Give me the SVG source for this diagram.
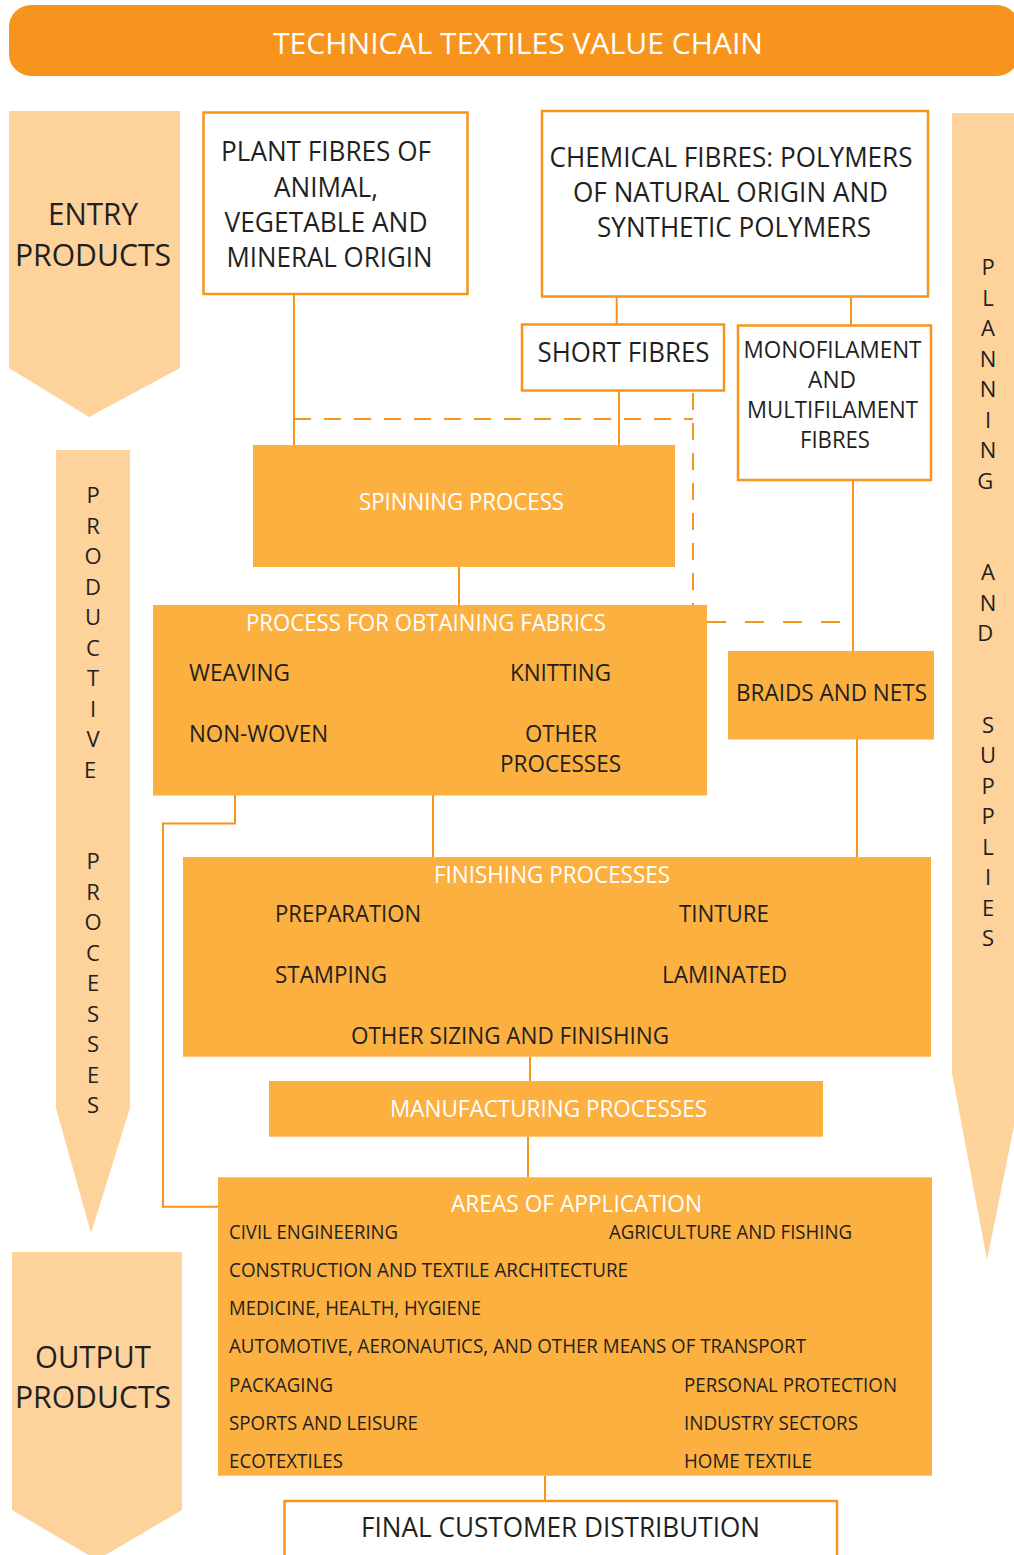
<svg xmlns="http://www.w3.org/2000/svg" width="1014" height="1555" viewBox="0 0 1014 1555">
<style>
.arrow{fill:#FDD29B}
.box{fill:#FFFFFF;stroke:#F7941E;stroke-width:2.5}
.fill{fill:#FBB040}
.t{font-family:"Open Sans","Noto Sans","Liberation Sans",sans-serif;fill:#231F20}
.w{font-family:"Open Sans","Noto Sans","Liberation Sans",sans-serif;fill:#FFFFFF}
.mid{text-anchor:middle}
.c{fill:none;stroke:#F7941E;stroke-width:2}
.d1{fill:none;stroke:#F7941E;stroke-width:2;stroke-dasharray:17 13}
.d2{fill:none;stroke:#F7941E;stroke-width:2;stroke-dasharray:19 19}
</style>
<rect width="1014" height="1555" fill="#FFFFFF"/>

<g id="header">
<rect x="9" y="5" width="1010" height="71" rx="22" fill="#F7941E"/>
<text class="w mid" x="518" y="54" font-size="30" textLength="490" lengthAdjust="spacingAndGlyphs">TECHNICAL TEXTILES VALUE CHAIN</text>
</g>

<g id="entry-products">
<polygon class="arrow" points="9,111 180,111 180,368 89,417 9,368"/>
<text class="t mid" x="93" y="225" font-size="31" textLength="90" lengthAdjust="spacingAndGlyphs">ENTRY</text>
<text class="t mid" x="93" y="266" font-size="31" textLength="156" lengthAdjust="spacingAndGlyphs">PRODUCTS</text>
</g>

<g id="productive-processes">
<polygon class="arrow" points="56,450 130,450 130,1108 91,1233 56,1108"/>
<text class="t mid" font-size="22">
<tspan x="93" y="503">P</tspan><tspan x="93" y="533.5">R</tspan><tspan x="93" y="564">O</tspan><tspan x="93" y="594.5">D</tspan><tspan x="93" y="625">U</tspan><tspan x="93" y="655.5">C</tspan><tspan x="93" y="686">T</tspan><tspan x="93" y="716.5">I</tspan><tspan x="93" y="747">V</tspan><tspan x="93" y="777.5">E</tspan>
<tspan x="93" y="869">P</tspan><tspan x="93" y="899.5">R</tspan><tspan x="93" y="930">O</tspan><tspan x="93" y="960.5">C</tspan><tspan x="93" y="991">E</tspan><tspan x="93" y="1021.5">S</tspan><tspan x="93" y="1052">S</tspan><tspan x="93" y="1082.5">E</tspan><tspan x="93" y="1113">S</tspan>
</text>
</g>

<g id="planning-supplies">
<polygon class="arrow" points="952,113 1014,113 1014,1126 987,1260 952,1073"/>
<text class="t mid" font-size="22">
<tspan x="988" y="275">P</tspan><tspan x="988" y="305.5">L</tspan><tspan x="988" y="336">A</tspan><tspan x="988" y="366.5">N</tspan><tspan x="988" y="397">N</tspan><tspan x="988" y="427.5">I</tspan><tspan x="988" y="458">N</tspan><tspan x="988" y="488.5">G</tspan>
<tspan x="988" y="580">A</tspan><tspan x="988" y="610.5">N</tspan><tspan x="988" y="641">D</tspan>
<tspan x="988" y="732.5">S</tspan><tspan x="988" y="763">U</tspan><tspan x="988" y="793.5">P</tspan><tspan x="988" y="824">P</tspan><tspan x="988" y="854.5">L</tspan><tspan x="988" y="885">I</tspan><tspan x="988" y="915.5">E</tspan><tspan x="988" y="946">S</tspan>
</text>
</g>

<g id="connectors">
<path class="c" d="M616.7 296.7V324"/>
<path class="c" d="M851 296.7V325"/>
<path class="c" d="M294 294V445"/>
<path class="c" d="M619 390.7V445"/>
<path class="d1" d="M294 419H693"/>
<path class="d1" d="M693 393V605"/>
<path class="d2" d="M707 622H853"/>
<path class="c" d="M853 480V651"/>
<path class="c" d="M459 567V605"/>
<path class="c" d="M433 795V857"/>
<path class="c" d="M235 795V823.5H163V1206.7H218"/>
<path class="c" d="M857 739V857"/>
<path class="c" d="M530 1056.7V1081"/>
<path class="c" d="M528 1136.7V1177"/>
<path class="c" d="M545 1475.7V1500.7"/>
</g>

<g id="plant-fibres">
<rect class="box" x="203.5" y="112.5" width="264" height="181.5"/>
<text class="t mid" font-size="26.5">
<tspan x="329.5" y="161" textLength="210" lengthAdjust="spacingAndGlyphs">PLANT FIBRES OF</tspan>
<tspan x="329.5" y="196.7" textLength="104" lengthAdjust="spacingAndGlyphs">ANIMAL,</tspan>
<tspan x="329.5" y="231.7" textLength="203" lengthAdjust="spacingAndGlyphs">VEGETABLE AND</tspan>
<tspan x="329.5" y="266.7" textLength="206" lengthAdjust="spacingAndGlyphs">MINERAL ORIGIN</tspan>
</text>
</g>

<g id="chemical-fibres">
<rect class="box" x="542" y="111" width="386" height="185.5"/>
<text class="t mid" font-size="26.5">
<tspan x="734.5" y="166.5" textLength="363" lengthAdjust="spacingAndGlyphs">CHEMICAL FIBRES: POLYMERS</tspan>
<tspan x="734" y="201.7" textLength="315" lengthAdjust="spacingAndGlyphs">OF NATURAL ORIGIN AND</tspan>
<tspan x="734" y="237" textLength="274" lengthAdjust="spacingAndGlyphs">SYNTHETIC POLYMERS</tspan>
</text>
</g>

<g id="short-fibres">
<rect class="box" x="522" y="324.5" width="202" height="66"/>
<text class="t mid" x="623.5" y="361.7" font-size="26.5" textLength="172" lengthAdjust="spacingAndGlyphs">SHORT FIBRES</text>
</g>

<g id="mono-multi-filament">
<rect class="box" x="738" y="325.5" width="193" height="154.5"/>
<text class="t mid" font-size="23">
<tspan x="835.5" y="357.5" textLength="178" lengthAdjust="spacingAndGlyphs">MONOFILAMENT</tspan>
<tspan x="835" y="387.5" textLength="48" lengthAdjust="spacingAndGlyphs">AND</tspan>
<tspan x="835.5" y="418.3" textLength="171" lengthAdjust="spacingAndGlyphs">MULTIFILAMENT</tspan>
<tspan x="835" y="448.3" textLength="70" lengthAdjust="spacingAndGlyphs">FIBRES</tspan>
</text>
</g>

<g id="spinning-process">
<rect class="fill" x="253" y="445" width="422" height="122"/>
<text class="w mid" x="461.5" y="510" font-size="23" textLength="205" lengthAdjust="spacingAndGlyphs">SPINNING PROCESS</text>
</g>

<g id="fabrics-process">
<rect class="fill" x="153" y="605" width="554" height="190.5"/>
<text class="w mid" x="426" y="631" font-size="23" textLength="360" lengthAdjust="spacingAndGlyphs">PROCESS FOR OBTAINING FABRICS</text>
<text class="t" x="189" y="681" font-size="23" textLength="101" lengthAdjust="spacingAndGlyphs">WEAVING</text>
<text class="t mid" x="560.5" y="681" font-size="23" textLength="101" lengthAdjust="spacingAndGlyphs">KNITTING</text>
<text class="t" x="189" y="741.7" font-size="23" textLength="139" lengthAdjust="spacingAndGlyphs">NON-WOVEN</text>
<text class="t mid" x="561" y="741.7" font-size="23" textLength="72" lengthAdjust="spacingAndGlyphs">OTHER</text>
<text class="t mid" x="560.5" y="771.7" font-size="23" textLength="121" lengthAdjust="spacingAndGlyphs">PROCESSES</text>
</g>

<g id="braids-nets">
<rect class="fill" x="728" y="651" width="206" height="88.5"/>
<text class="t mid" x="831.5" y="700.7" font-size="23" textLength="191" lengthAdjust="spacingAndGlyphs">BRAIDS AND NETS</text>
</g>

<g id="finishing-processes">
<rect class="fill" x="183" y="857" width="748" height="199.7"/>
<text class="w mid" x="552" y="883.3" font-size="23" textLength="236" lengthAdjust="spacingAndGlyphs">FINISHING PROCESSES</text>
<text class="t" x="275" y="921.7" font-size="23" textLength="146" lengthAdjust="spacingAndGlyphs">PREPARATION</text>
<text class="t mid" x="724" y="921.7" font-size="23" textLength="90" lengthAdjust="spacingAndGlyphs">TINTURE</text>
<text class="t" x="275" y="982.7" font-size="23" textLength="112" lengthAdjust="spacingAndGlyphs">STAMPING</text>
<text class="t mid" x="724.5" y="982.7" font-size="23" textLength="125" lengthAdjust="spacingAndGlyphs">LAMINATED</text>
<text class="t mid" x="510" y="1044" font-size="23" textLength="318" lengthAdjust="spacingAndGlyphs">OTHER SIZING AND FINISHING</text>
</g>

<g id="manufacturing-processes">
<rect class="fill" x="269" y="1081" width="554" height="55.7"/>
<text class="w mid" x="548.5" y="1116.7" font-size="23" textLength="317" lengthAdjust="spacingAndGlyphs">MANUFACTURING PROCESSES</text>
</g>

<g id="areas-of-application">
<rect class="fill" x="218" y="1177.3" width="714" height="298.4"/>
<text class="w mid" x="576.5" y="1211.7" font-size="23" textLength="251" lengthAdjust="spacingAndGlyphs">AREAS OF APPLICATION</text>
<g class="t" font-size="20">
<text x="229" y="1239.3" textLength="169" lengthAdjust="spacingAndGlyphs">CIVIL ENGINEERING</text>
<text x="609" y="1239.3" textLength="243" lengthAdjust="spacingAndGlyphs">AGRICULTURE AND FISHING</text>
<text x="229" y="1277.3" textLength="399" lengthAdjust="spacingAndGlyphs">CONSTRUCTION AND TEXTILE ARCHITECTURE</text>
<text x="229" y="1315" textLength="252" lengthAdjust="spacingAndGlyphs">MEDICINE, HEALTH, HYGIENE</text>
<text x="229" y="1353.3" textLength="577" lengthAdjust="spacingAndGlyphs">AUTOMOTIVE, AERONAUTICS, AND OTHER MEANS OF TRANSPORT</text>
<text x="229" y="1391.7" textLength="104" lengthAdjust="spacingAndGlyphs">PACKAGING</text>
<text x="684" y="1391.7" textLength="213" lengthAdjust="spacingAndGlyphs">PERSONAL PROTECTION</text>
<text x="229" y="1430" textLength="189" lengthAdjust="spacingAndGlyphs">SPORTS AND LEISURE</text>
<text x="684" y="1430" textLength="174" lengthAdjust="spacingAndGlyphs">INDUSTRY SECTORS</text>
<text x="229" y="1467.7" textLength="114" lengthAdjust="spacingAndGlyphs">ECOTEXTILES</text>
<text x="684" y="1467.7" textLength="128" lengthAdjust="spacingAndGlyphs">HOME TEXTILE</text>
</g>
</g>

<g id="output-products">
<polygon class="arrow" points="12,1252 182,1252 182,1510 97,1560 12,1510"/>
<text class="t mid" x="93" y="1368" font-size="31" textLength="116" lengthAdjust="spacingAndGlyphs">OUTPUT</text>
<text class="t mid" x="93" y="1408" font-size="31" textLength="156" lengthAdjust="spacingAndGlyphs">PRODUCTS</text>
</g>

<g id="final-customer-distribution">
<path class="box" d="M284.5 1560V1501H837V1560"/>
<text class="t mid" x="560.5" y="1536.7" font-size="28" textLength="399" lengthAdjust="spacingAndGlyphs">FINAL CUSTOMER DISTRIBUTION</text>
</g>
</svg>
